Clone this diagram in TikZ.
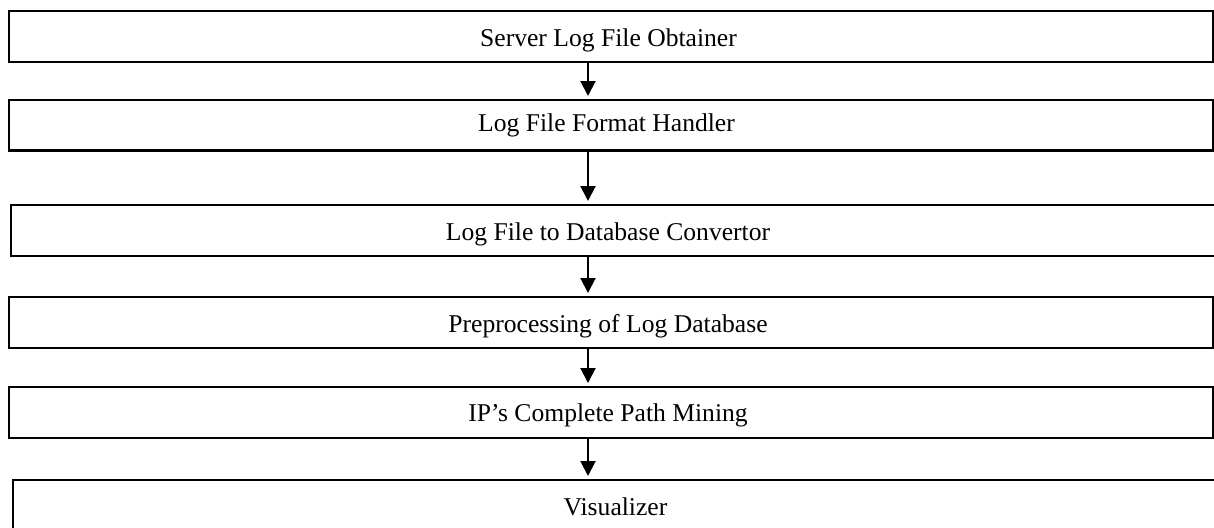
\documentclass[tikz,border=0pt]{standalone}
\usepackage{fontspec}
\setmainfont{Liberation Serif}
\usetikzlibrary{arrows.meta}
\tikzset{
  box/.style={draw=black, line width=2.2pt, rectangle, outer sep=0pt, inner sep=0pt, anchor=north west},
  lbl/.style={anchor=base, inner sep=0pt, font=\fontsize{25.6pt}{30pt}\selectfont},
  arr/.style={line width=2pt, -{Triangle[width=15pt,length=15pt]}, shorten >=4pt}
}
\begin{document}
\begin{tikzpicture}[x=1pt,y=-1pt]
\useasboundingbox (0,0) rectangle (1214,527);
\clip (0,0) rectangle (1214,527);
\node[box, minimum width=1204pt, minimum height=51pt] (b1) at (9,11) {};
\node[box, minimum width=1204pt, minimum height=50.5pt] (b2) at (9,100) {};
\node[box, minimum width=1230pt, minimum height=51pt] (b3) at (11,205) {};
\node[box, minimum width=1204pt, minimum height=51pt] (b4) at (9,297) {};
\node[box, minimum width=1204pt, minimum height=51pt] (b5) at (9,387) {};
\node[box, minimum width=1230pt, minimum height=80pt] (b6) at (13,480) {};
\node[lbl] (t1) at (608.5,46) {Server Log File Obtainer};
\node[lbl] (t2) at (606.5,131.7) {Log File Format Handler};
\node[lbl] (t3) at (608,240) {Log File to Database Convertor};
\node[lbl] (t4) at (608,332) {Preprocessing of Log Database};
\node[lbl] (t5) at (608,421.5) {IP’s Complete Path Mining};
\node[lbl] (t6) at (615.5,515) {Visualizer};
\coordinate (ax) at (588,0);
\draw[arr] (b1.south -| ax) -- (b2.north -| ax);
\draw[arr] (b2.south -| ax) -- (b3.north -| ax);
\draw[arr] (b3.south -| ax) -- (b4.north -| ax);
\draw[arr] (b4.south -| ax) -- (b5.north -| ax);
\draw[arr] (b5.south -| ax) -- (b6.north -| ax);
\end{tikzpicture}
\end{document}
